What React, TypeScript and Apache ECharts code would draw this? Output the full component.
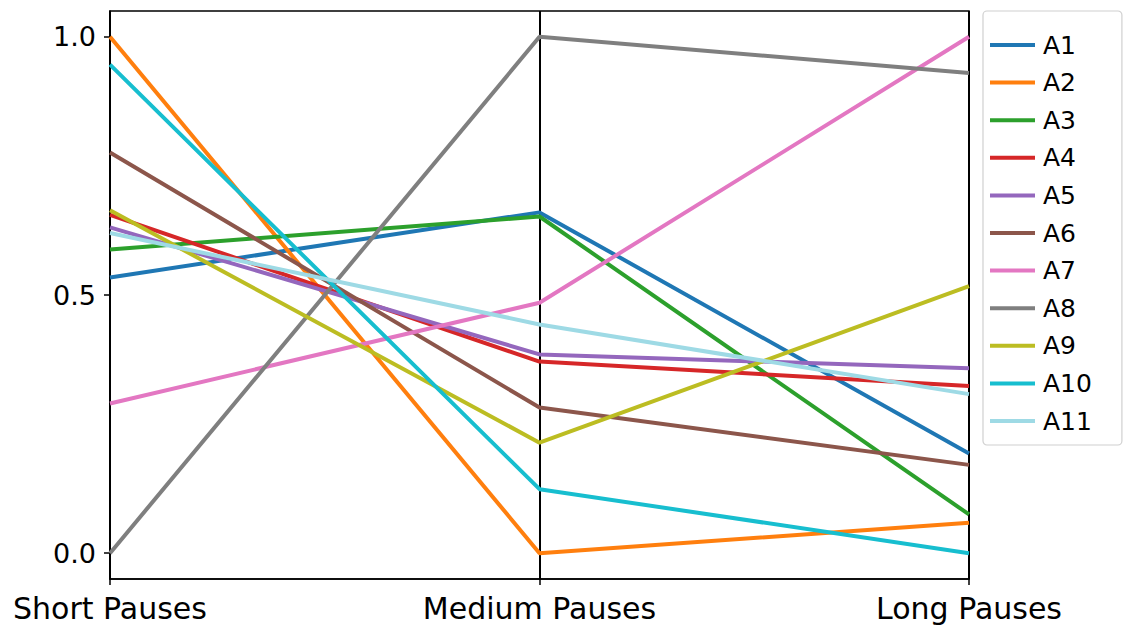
import React, { useEffect, useRef } from "react";
import * as echarts from "echarts";

const categories = ["Short Pauses", "Medium Pauses", "Long Pauses"];
const seriesNames = ["A1", "A2", "A3", "A4", "A5", "A6", "A7", "A8", "A9", "A10", "A11"];
const A1 = [0.534, 0.66, 0.193];
const A2 = [1.0, 0.0, 0.059];
const A3 = [0.588, 0.652, 0.075];
const A4 = [0.655, 0.371, 0.324];
const A5 = [0.631, 0.385, 0.358];
const A6 = [0.776, 0.282, 0.171];
const A7 = [0.29, 0.485, 1.0];
const A8 = [0.0, 1.0, 0.93];
const A9 = [0.664, 0.214, 0.517];
const A10 = [0.946, 0.124, 0.0];
const A11 = [0.62, 0.443, 0.308];
const seriesValues = [A1, A2, A3, A4, A5, A6, A7, A8, A9, A10, A11];
const colors = [
  "#1f77b4", "#ff7f0e", "#2ca02c", "#d62728", "#9467bd", "#8c564b",
  "#e377c2", "#7f7f7f", "#bcbd22", "#17becf", "#9edae5",
];
const yTicks = [0, 0.5, 1.0];

export default function App() {
  const ref = useRef<HTMLDivElement>(null);
  useEffect(() => {
    if (!ref.current) return;
    const chart = echarts.init(ref.current, null, { renderer: "svg" });
    chart.setOption({
      animation: false,
      color: colors,
      grid: {
        left: 110, top: 11, width: 859, height: 568,
        show: true, borderColor: "#000", borderWidth: 1.5, backgroundColor: "transparent",
      },
      legend: {
        orient: "vertical",
        left: 983,
        top: 11,
        data: seriesNames,
        icon: "rect",
        itemWidth: 45,
        itemHeight: 4,
        itemGap: 11.6,
        padding: [21, 30, 11, 7],
        borderColor: "#d0d0d0",
        borderWidth: 1.2,
        borderRadius: 4,
        textStyle: { fontFamily: "DejaVu Sans", fontSize: 25, color: "#000", lineHeight: 26, padding: [0, 0, 0, 3] },
      },
      xAxis: {
        type: "category",
        data: categories,
        boundaryGap: false,
        axisLine: { show: true, onZero: false, lineStyle: { color: "#000", width: 1.5 } },
        axisTick: { show: true, length: 6, lineStyle: { color: "#000", width: 1.5 } },
        axisLabel: { fontFamily: "DejaVu Sans", fontSize: 30, color: "#000", margin: 14 },
        splitLine: { show: true, lineStyle: { color: "#000", width: 2 } },
      },
      yAxis: {
        type: "value",
        min: -0.05,
        max: 1.05,
        axisLine: { show: true, lineStyle: { color: "#000", width: 1.5 } },
        axisTick: { show: true, length: 6, customValues: yTicks, lineStyle: { color: "#000", width: 1.5 } },
        axisLabel: {
          fontFamily: "DejaVu Sans", fontSize: 27, color: "#000", margin: 14,
          customValues: yTicks,
          formatter: (v: number) => v.toFixed(1),
        },
        splitLine: { show: false },
      },
      series: seriesNames.map((name, i) => ({
        name,
        type: "line",
        data: seriesValues[i],
        symbol: "none",
        lineStyle: { width: 4, color: colors[i] },
        itemStyle: { color: colors[i] },
        z: 2 + i * 0.01,
      })),
    });
    return () => chart.dispose();
  }, []);
  return <div ref={ref} style={{ width: 1133, height: 633, position: "absolute", left: 0, top: 0 }} />;
}
